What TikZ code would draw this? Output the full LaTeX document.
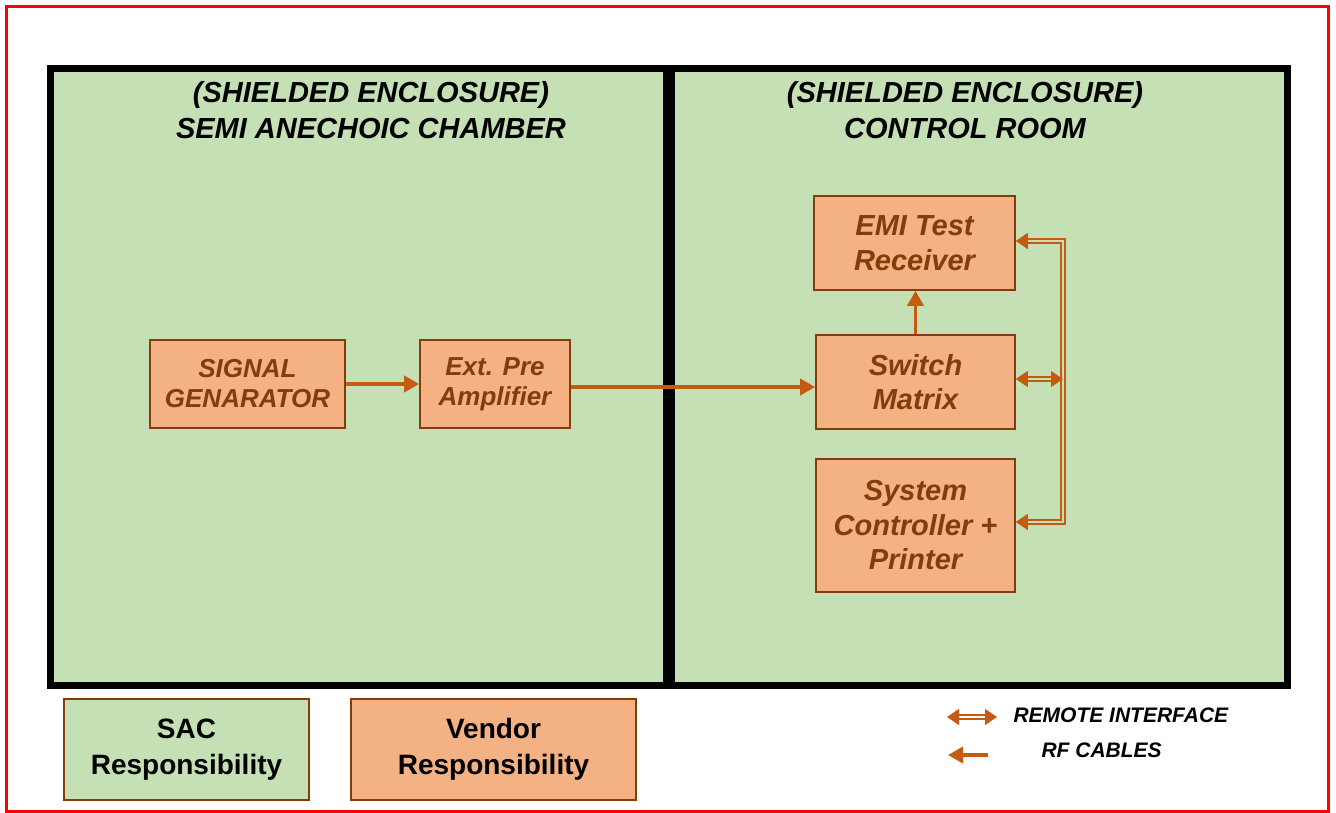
\documentclass[tikz,border=0pt]{standalone}
\usepackage{fontspec}
\setmainfont{Liberation Sans}
\usetikzlibrary{arrows.meta}
\definecolor{sacgreen}{HTML}{C5E0B4}
\definecolor{vendfill}{HTML}{F4B183}
\definecolor{vendline}{HTML}{843C0C}
\definecolor{arrowc}{HTML}{C55A11}
\tikzset{
  room/.style={draw=black, line width=7pt, fill=sacgreen},
  vbox/.style={draw=vendline, line width=1.6pt, fill=vendfill, text=vendline, align=center,
    font=\bfseries\itshape\fontsize{26}{30}\selectfont, inner sep=0pt},
  vboxb/.style={vbox, font=\bfseries\itshape\fontsize{29}{34.5}\selectfont},
  legbox/.style={draw=vendline, line width=1.6pt, align=center, text=black,
    font=\bfseries\fontsize{28}{36}\selectfont, inner sep=0pt},
  title/.style={align=center, font=\bfseries\itshape\fontsize{29}{36}\selectfont},
  rf/.style={draw=arrowc, line width=3.6pt, -{Triangle[length=15pt,width=16pt]}},
  remote/.style={draw=arrowc, line width=1.3pt, double=sacgreen, double distance=2.6pt,
    {Triangle[length=12pt,width=16pt]}-{Triangle[length=12pt,width=16pt]}},
  remoteend/.style={draw=arrowc, line width=1.3pt, double=sacgreen, double distance=2.6pt},
  legtext/.style={font=\bfseries\itshape\fontsize{21}{24}\selectfont, anchor=west}
}
\begin{document}
\begin{tikzpicture}[x=1pt,y=-1pt]
\useasboundingbox (0,0) rectangle (1336,813);
\fill[white] (0,0) rectangle (1336,813);
\draw[red, line width=3pt] (6.5,6.5) rectangle (1328,811);
% rooms
\draw[room] (50,68.5) rectangle (666,685.5);
\draw[room] (671,68.5) rectangle (1287,685.5);
\node[title] (t1) at (371,110) {(SHIELDED ENCLOSURE)\\SEMI ANECHOIC CHAMBER};
\node[title] (t2) at (965,110) {(SHIELDED ENCLOSURE)\\CONTROL ROOM};
% boxes
\node[vbox, minimum width=195pt, minimum height=88pt] (sig) at (247.5,384) {SIGNAL\\GENARATOR};
\node[vbox, minimum width=150pt, minimum height=88pt] (amp) at (495,384) {Ext. Pre\\Amplifier};
\node[vboxb, minimum width=201pt, minimum height=94pt] (emi) at (914.5,243) {EMI Test\\Receiver};
\node[vboxb, minimum width=199pt, minimum height=94pt] (sw) at (915.5,382) {Switch\\Matrix};
\node[vboxb, minimum width=199pt, minimum height=133pt] (sys) at (915.5,525.5) {System\\Controller +\\Printer};
% RF cables
\draw[rf] (sig.east) -- (amp.west);
\draw[rf] (amp.east |- 0,387) -- (sw.west |- 0,387);
\draw[rf] (sw.north) -- (sw.north |- emi.south);
% remote interface
\coordinate (rt) at (1063,241);
\coordinate (rb) at (1063,522);
\coordinate (rm) at (1063,379);
\draw[remoteend, {Triangle[length=12pt,width=16pt]}-{Triangle[length=12pt,width=16pt]}]
  (emi.east |- rt) -- (rt) -- (rb) -- (sys.east |- rb);
\draw[remote] (sw.east |- rm) -- (rm);
% legend
\node[legbox, fill=sacgreen, minimum width=245pt, minimum height=101pt] (sac) at (186.5,749.5) {SAC\\Responsibility};
\node[legbox, fill=vendfill, minimum width=285pt, minimum height=101pt] (ven) at (493.5,749.5) {Vendor\\Responsibility};
\coordinate (l1a) at (947,717);
\coordinate (l1b) at (997,717);
\draw[remote, double=white] (l1a) -- (l1b);
\coordinate (l2a) at (948,755);
\coordinate (l2b) at (988,755);
\draw[rf] (l2b) -- (l2a);
\node[legtext] (lt1) at (1010,715) {REMOTE INTERFACE};
\node[legtext] (lt2) at (1038,750) {RF CABLES};
\end{tikzpicture}
\end{document}
